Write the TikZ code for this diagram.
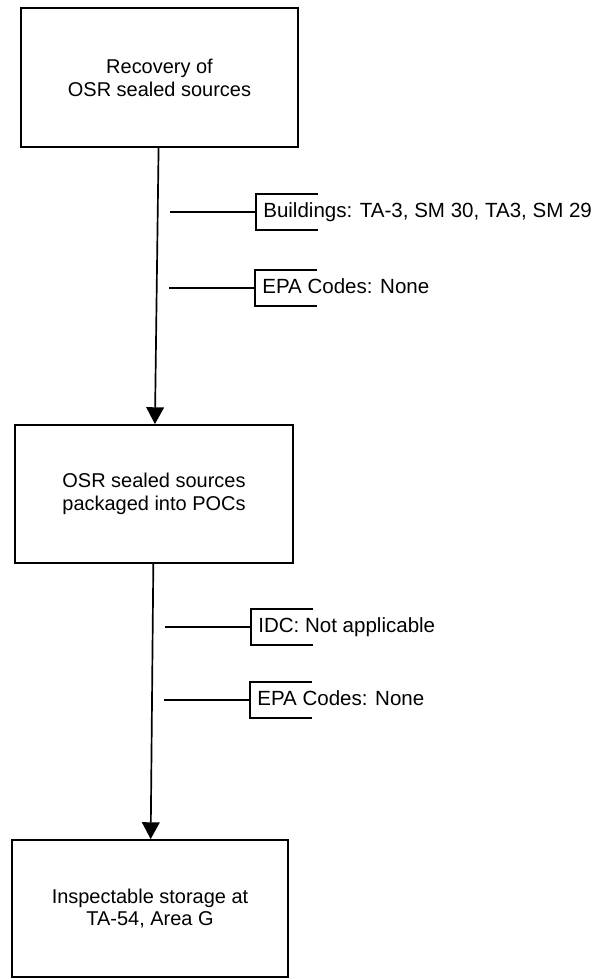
\documentclass[tikz,border=0pt]{standalone}
\usepackage{fontspec}
\setmainfont{Liberation Sans}
\usetikzlibrary{arrows.meta}
\tikzset{
    stepbox/.style={draw, line width=1.3pt, align=center, inner sep=0pt,
        font=\fontsize{14.2}{16.2}\selectfont},
    note/.style={anchor=west, inner xsep=5pt, text height=0.36cm, text depth=0.1cm,
        font=\fontsize{14.6}{16.6}\selectfont},
    flow/.style={line width=1.2pt, -{Triangle[length=4.2mm,width=4.4mm]}},
    branch/.style={line width=0.9pt}
}
\begin{document}
\begin{tikzpicture}[x=0.025cm, y=-0.025cm]
    \useasboundingbox (0,0) rectangle (599,979);
    % process boxes
    \node[stepbox, minimum width=277*0.025cm, minimum height=139*0.025cm] (rec) at (159.5,77.5)
        {Recovery of\\OSR sealed sources};
    \node[stepbox, minimum width=278*0.025cm, minimum height=138*0.025cm] (pack) at (154,494)
        {OSR sealed sources\\packaged into POCs};
    \node[stepbox, minimum width=276*0.025cm, minimum height=137*0.025cm] (store) at (150,908.5)
        {Inspectable storage at\\TA-54, Area G};

    \draw[flow] (rec) -- (pack);
    \draw[flow] (pack) -- (store);

    % annotations
    \node[note] (bld) at (256,212) {Buildings: TA-3, SM 30, TA3, SM 29};
    \node[note] (epaA) at (255,288) {EPA Codes: None};
    \node[note] (idc) at (251,627) {IDC: Not applicable};
    \node[note] (epaB) at (250,700) {EPA Codes: None};

    \foreach \n in {bld,epaA,idc,epaB}
    {
        \draw[branch] (\n.west) ++(62,-18) -- ++(-62,0) -- ++(0,36) -- ++(62,0);
        \draw[branch] (\n.west) -- ++(-86,0);
    }
\end{tikzpicture}
\end{document}
